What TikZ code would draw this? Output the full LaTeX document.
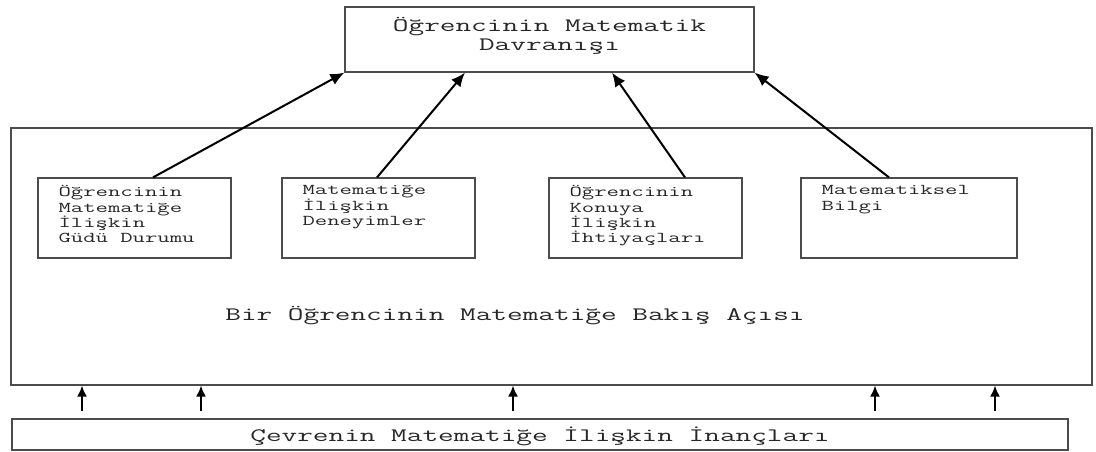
\documentclass[tikz,border=0pt]{standalone}
\usepackage{fontspec}
\usetikzlibrary{arrows.meta}
\newfontfamily\kutufont[FakeStretch=1.6]{Latin Modern Mono}

\tikzset{
    kutu/.style={draw=black!70, line width=1.2pt, inner sep=0pt},
    yazi/.style={inner sep=0pt, text=black!85, align=left,
        font=\kutufont\fontsize{15}{15.4}\selectfont},
    buyukyazi/.style={inner sep=0pt, text=black!85, align=center,
        font=\kutufont\fontsize{19}{18.5}\selectfont},
    oku/.style={line width=2pt, -{Latex[length=14pt,width=12pt]}},
}

\begin{document}
\begin{tikzpicture}[x=1pt, y=-1pt]
\useasboundingbox (0,0) rectangle (1096,452);

% kutular
\node[kutu, minimum width=409pt, minimum height=65pt] (davranis) at (549.5,39.5) {};
\node[kutu, minimum width=1081pt, minimum height=257pt] (bakis) at (551.5,256.5) {};
\node[kutu, minimum width=193pt, minimum height=80pt] (gudu) at (134.5,218) {};
\node[kutu, minimum width=193pt, minimum height=80pt] (deneyim) at (378.5,218) {};
\node[kutu, minimum width=193pt, minimum height=80pt] (ihtiyac) at (645.5,218) {};
\node[kutu, minimum width=216pt, minimum height=80pt] (bilgi) at (909,218) {};
\node[kutu, minimum width=1056pt, minimum height=31pt] (inanc) at (540,434.5) {};

% yazilar
\node[buyukyazi] at (549.5,36) {Öğrencinin Matematik\\Davranışı};
\node[buyukyazi, anchor=base] at (515,320.7) {Bir Öğrencinin Matematiğe Bakış Açısı};
\node[buyukyazi, anchor=base] at (540,441.7) {Çevrenin Matematiğe İlişkin İnançları};

\node[yazi, anchor=north west] at ([shift={(21,8)}]gudu.north west)
    {Öğrencinin\\Matematiğe\\İlişkin\\Güdü Durumu};
\node[yazi, anchor=north west] at ([shift={(21,8)}]deneyim.north west)
    {Matematiğe\\İlişkin\\Deneyimler};
\node[yazi, anchor=north west] at ([shift={(21,8)}]ihtiyac.north west)
    {Öğrencinin\\Konuya\\İlişkin\\İhtiyaçları};
\node[yazi, anchor=north west] at ([shift={(21,8)}]bilgi.north west)
    {Matematiksel\\Bilgi};

% yukari oklar
\draw[oku] ([xshift=18.5pt]gudu.north) -- (davranis.south west);
\draw[oku] ([xshift=-1.5pt]deneyim.north) -- ([xshift=-84.5pt]davranis.south);
\draw[oku] ([xshift=39.5pt]ihtiyac.north) -- ([xshift=62.5pt]davranis.south);
\draw[oku] ([xshift=-20pt]bilgi.north) -- (davranis.south east);

\foreach \x in {82,201,513,875,995}
{
    \draw[oku, line width=1.8pt, -{Latex[length=11pt,width=10pt]}, shorten <=7pt]
        (inanc.north -| \x,0) -- (bakis.south -| \x,0);
}
\end{tikzpicture}
\end{document}
